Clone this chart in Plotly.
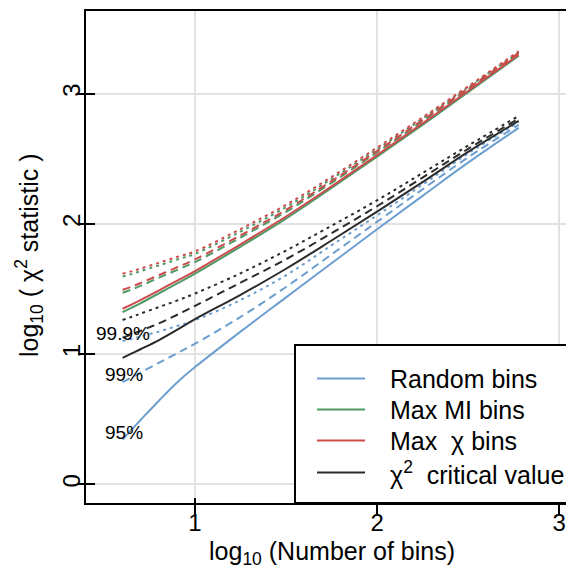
import plotly.graph_objects as go

# x: log10(number of bins)
x_vals = [0.602, 0.65, 0.7, 0.8, 0.9, 1.0, 1.25, 1.5, 1.75, 2.0, 2.25, 2.5, 2.778]

# Random bins (95%, 99%, 99.9%)
random_95 = [0.343, 0.418, 0.492, 0.64, 0.78, 0.9, 1.172, 1.435, 1.697, 1.958, 2.215, 2.47, 2.737]
random_99 = [0.785, 0.82, 0.858, 0.932, 1.005, 1.08, 1.285, 1.515, 1.765, 2.015, 2.265, 2.51, 2.76]
random_999 = [1.100, 1.115, 1.135, 1.172, 1.215, 1.26, 1.415, 1.605, 1.835, 2.065, 2.30, 2.54, 2.78]

# Max MI bins
mi_95 = [1.322, 1.355, 1.39, 1.465, 1.54, 1.617, 1.825, 2.04, 2.275, 2.515, 2.76, 3.01, 3.29]
mi_99 = [1.471, 1.495, 1.523, 1.585, 1.645, 1.706, 1.895, 2.092, 2.315, 2.548, 2.788, 3.032, 3.305]
mi_999 = [1.596, 1.614, 1.636, 1.68, 1.725, 1.77, 1.94, 2.128, 2.345, 2.572, 2.808, 3.048, 3.318]

# Max chi bins
chi_95 = [1.348, 1.38, 1.414, 1.488, 1.562, 1.637, 1.843, 2.056, 2.288, 2.527, 2.771, 3.02, 3.298]
chi_99 = [1.494, 1.517, 1.545, 1.605, 1.665, 1.727, 1.912, 2.107, 2.328, 2.558, 2.797, 3.04, 3.312]
chi_999 = [1.617, 1.635, 1.656, 1.70, 1.745, 1.788, 1.96, 2.146, 2.36, 2.585, 2.817, 3.055, 3.325]

# chi^2 critical value
crit_95 = [0.97, 1.003, 1.037, 1.106, 1.185, 1.268, 1.455, 1.655, 1.872, 2.094, 2.32, 2.552, 2.79]
crit_99 = [1.125, 1.15, 1.178, 1.235, 1.30, 1.37, 1.548, 1.728, 1.928, 2.135, 2.355, 2.575, 2.808]
crit_999 = [1.262, 1.285, 1.31, 1.36, 1.41, 1.465, 1.62, 1.795, 1.985, 2.18, 2.39, 2.60, 2.828]

level_labels = ["99.9%", "99%", "95%"]
level_label_x = [0.604, 0.61, 0.61]
level_label_y = [1.155, 0.844, 0.40]

legend_names = ["Random bins", "Max MI bins", "Max  χ bins", "χ<sup>2</sup>  critical value"]

BLUE = "#6c9fcf"
GREEN = "#4f9a68"
RED = "#cc4c4c"
BLACK = "#2b2b2b"
FONT = "Liberation Sans, Arial, sans-serif"

DASH = "8px,5px"
DOT = "3px,4px"

fig = go.Figure()

series = [
    (legend_names[0], BLUE, [random_95, random_99, random_999]),
    (legend_names[1], GREEN, [mi_95, mi_99, mi_999]),
    (legend_names[2], RED, [chi_95, chi_99, chi_999]),
    (legend_names[3], BLACK, [crit_95, crit_99, crit_999]),
]

# dotted/dashed first, solid last
for name, color, ys in series:
    for y, dash in ((ys[2], DOT), (ys[1], DASH)):
        fig.add_trace(go.Scatter(x=x_vals, y=y, mode="lines", showlegend=False,
                                 line=dict(color=color, width=2, dash=dash, shape="spline"),
                                 hoverinfo="skip"))
for name, color, ys in series:
    fig.add_trace(go.Scatter(x=x_vals, y=ys[0], mode="lines", name=name, showlegend=False,
                             line=dict(color=color, width=2, shape="spline")))

# invisible trace to carry the inner tick axes
fig.add_trace(go.Scatter(x=[None], y=[None], xaxis="x2", yaxis="y2", showlegend=False))

XR = [0.401, 3.082]
YR = [-0.1435, 3.634]

# page body has an 8px margin: figure is sized so the plot sits where it should
W, H = 566, 564
ML, MT, MB = 78, 3, 69
PW, PH = W - ML, H - MT - MB

def px_x(px):
    return (px - 8 - ML) / PW

def px_y(py):
    return (H - MB + 8 - py) / PH

shapes = [dict(type="rect", xref="paper", yref="paper", x0=px_x(295), x1=1.05, y0=0, y1=px_y(345),
               line=dict(color="black", width=2), fillcolor="white", layer="above")]
row_y = [378.5, 409.5, 440.5, 472.5]
for (name, color, _), ry in zip(series, row_y):
    shapes.append(dict(type="line", xref="paper", yref="paper", x0=px_x(317), x1=px_x(365),
                       y0=px_y(ry), y1=px_y(ry), line=dict(color=color, width=2), layer="above"))

fig.update_layout(
    width=W, height=H,
    margin=dict(l=ML, r=0, t=MT, b=MB, pad=0),
    paper_bgcolor="white", plot_bgcolor="white",
    font=dict(family=FONT, color="black"),
    showlegend=False,
    xaxis=dict(range=XR, tickvals=[1, 2, 3], ticks="outside", ticklen=9, tickwidth=1.5,
               tickcolor="black", showgrid=True, gridcolor="#e2e2e2", gridwidth=1.5,
               zeroline=False, showline=True, linecolor="black", linewidth=2, mirror=True,
               ticklabelstandoff=-12, tickfont=dict(size=24, family=FONT)),
    yaxis=dict(range=YR, tickvals=[0, 1, 2, 3], ticks="outside", ticklen=6, tickwidth=1.5,
               tickcolor="black", showgrid=True, gridcolor="#e2e2e2", gridwidth=1.5,
               zeroline=False, showline=True, linecolor="black", linewidth=2,
               tickangle=-90, ticklabelstandoff=-12, tickfont=dict(size=24, family=FONT)),
    xaxis2=dict(range=XR, overlaying="x", anchor="y", side="bottom", tickvals=[1, 2, 3],
                ticks="inside", ticklen=5, tickwidth=1.5, tickcolor="black",
                showticklabels=False, showgrid=False, zeroline=False, showline=False),
    yaxis2=dict(range=YR, overlaying="y", anchor="x", side="left", tickvals=[0, 1, 2, 3],
                ticks="inside", ticklen=9, tickwidth=1.5, tickcolor="black",
                showticklabels=False, showgrid=False, zeroline=False, showline=False),
    shapes=shapes,
)

for (name, color, _), ry in zip(series, row_y):
    fig.add_annotation(xref="paper", yref="paper", x=px_x(388), y=px_y(ry), text=name,
                       showarrow=False, xanchor="left", yanchor="middle",
                       font=dict(size=25, family=FONT, color="black"))

for t, lx, ly in zip(level_labels, level_label_x, level_label_y):
    fig.add_annotation(x=lx, y=ly, xref="x", yref="y", text=t, showarrow=False,
                       font=dict(size=19, family=FONT, color="black"),
                       xanchor="center", yanchor="middle")

fig.add_annotation(xref="paper", yref="paper", x=px_x(332), y=px_y(553),
                   text="log<sub>10</sub> (Number of bins)",
                   showarrow=False, font=dict(size=25, family=FONT), xanchor="center", yanchor="middle")
fig.add_annotation(xref="paper", yref="paper", x=px_x(29), y=px_y(255),
                   text="log<sub>10</sub> ( χ<sup>2</sup> statistic )", textangle=-90,
                   showarrow=False, font=dict(size=25, family=FONT), xanchor="center", yanchor="middle")

fig.write_html("out.html")
